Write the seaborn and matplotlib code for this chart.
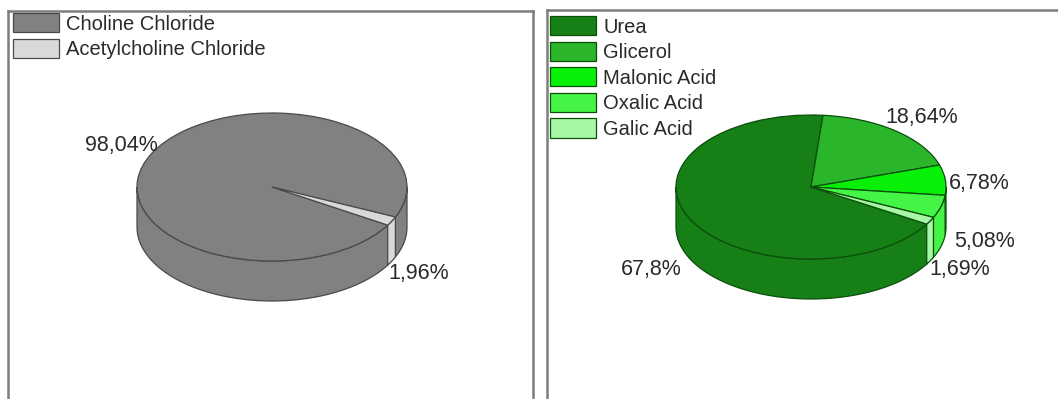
import numpy as np
import matplotlib
matplotlib.use("Agg")
import matplotlib.pyplot as plt
import seaborn as sns

# data
left_labels = ["Choline Chloride", "Acetylcholine Chloride"]
left_values = [98.04, 1.96]
left_text = ["98,04%", "1,96%"]

right_labels = ["Urea", "Glicerol", "Malonic Acid", "Oxalic Acid", "Galic Acid"]
right_values = [67.8, 18.64, 6.78, 5.08, 1.69]
right_text = ["67,8%", "18,64%", "6,78%", "5,08%", "1,69%"]

left_colors = ["#818181", "#d9d9d9"]
right_colors = ["#167f16", "#2bb52b", "#08ef08", "#45f545", "#a6f7a6"]

sns.set_style("white")
plt.rcParams["font.family"] = ["Liberation Sans", "DejaVu Sans"]

W, H = 1058, 399
fig = plt.figure(figsize=(W / 100, H / 100), dpi=100)


def panel(x0, x1, ytop, ybot, cx, cy, rx, ry):
    ax = fig.add_axes([x0 / W, 1 - ybot / H, (x1 - x0) / W, (ybot - ytop) / H])
    lims = ((x0 - cx) / rx, (x1 - cx) / rx), ((cy - ybot) / ry, (cy - ytop) / ry)
    return ax, lims


def pie3d(ax, lims, values, colors, edge, depth):
    wedges, _ = ax.pie(values, colors=colors, startangle=-31, counterclock=False,
                       radius=1, center=(0, 0), frame=True,
                       wedgeprops=dict(edgecolor=edge, linewidth=0.9))
    # side wall, only the front half is visible
    for w, c in zip(wedges, colors):
        for k in range(-2, 2):
            lo = max(w.theta1, 180 + 360 * k)
            hi = min(w.theta2, 360 + 360 * k)
            if hi <= lo:
                continue
            t = np.radians(np.linspace(lo, hi, 60))
            xs = np.concatenate([np.cos(t), np.cos(t[::-1])])
            ys = np.concatenate([np.sin(t), np.sin(t[::-1]) - depth])
            ax.fill(xs, ys, facecolor=c, edgecolor=edge, linewidth=0.9, zorder=0.5)
    ax.set_aspect("auto")
    ax.set_xlim(*lims[0])
    ax.set_ylim(*lims[1])
    ax.set_xticks([])
    ax.set_yticks([])
    for s in ["top", "left", "right"]:
        ax.spines[s].set_color("#7d7d7d")
        ax.spines[s].set_linewidth(1.8)
    ax.spines["bottom"].set_visible(False)
    return wedges


def legend(ax, wedges, labels, x, y):
    ax.legend(wedges, labels, loc="upper left", bbox_to_anchor=(x / W, 1 - y / H),
              bbox_transform=fig.transFigure, frameon=False, fontsize=14.5,
              handlelength=2.3, handleheight=1.1, labelspacing=0.25,
              handletextpad=0.35, borderpad=0, borderaxespad=0, labelcolor="#2a2a2a")


# left panel
axl, limsl = panel(8, 533, 11, 420, 272, 187, 135, 74)
wl = pie3d(axl, limsl, left_values, left_colors, "#4a4a4a", 40 / 74)
legend(axl, wl, left_labels, 13, 13)

# right panel
axr, limsr = panel(547, 1080, 10, 420, 811, 187, 135, 72)
wr = pie3d(axr, limsr, right_values, right_colors, "#0b4f0b", 40 / 72)
legend(axr, wr, right_labels, 550, 16)

# value labels
left_pos = [(121, 146), (419, 274)]
right_pos = [(651, 270), (922, 118), (979, 184), (985, 241), (960, 269)]
for s, (px, py) in zip(left_text + right_text, left_pos + right_pos):
    fig.text(px / W, 1 - py / H, s, ha="center", va="center", fontsize=15.5,
             color="#2a2a2a")

fig.savefig("out.png", dpi=100)
